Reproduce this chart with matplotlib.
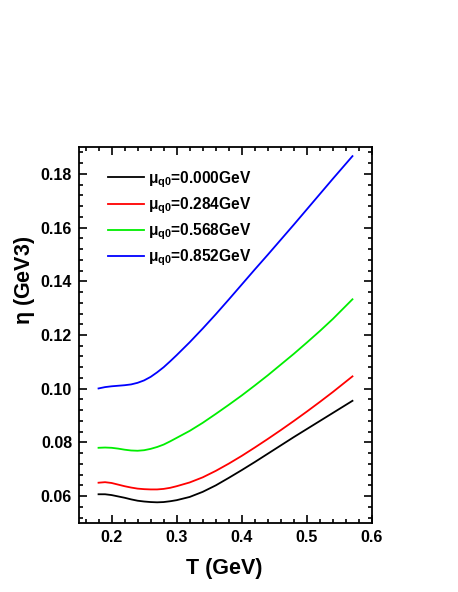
import numpy as np
import matplotlib
matplotlib.use("Agg")
import matplotlib.pyplot as plt
from matplotlib.ticker import MultipleLocator

plt.rcParams['font.family'] = ['Liberation Sans', 'DejaVu Sans']
plt.rcParams['font.weight'] = 'bold'
plt.rcParams['mathtext.default'] = 'regular'

T = [0.18, 0.19, 0.20, 0.21, 0.22, 0.23, 0.24, 0.25, 0.26, 0.27, 0.28, 0.29, 0.30,
     0.32, 0.34, 0.36, 0.38, 0.40, 0.42, 0.44, 0.46, 0.48, 0.50, 0.52, 0.54, 0.57]
eta_000 = [0.0607, 0.0607, 0.0604, 0.0599, 0.0594, 0.0588, 0.0583, 0.0580, 0.0578, 0.0577, 0.0578, 0.0581, 0.0585,
           0.0597, 0.0616, 0.0640, 0.0668, 0.0697, 0.0727, 0.0758, 0.0789, 0.0820, 0.0850, 0.0880, 0.0910, 0.0955]
eta_284 = [0.0650, 0.0652, 0.0649, 0.0643, 0.0637, 0.0632, 0.0628, 0.0626, 0.0625, 0.0625, 0.0627, 0.0631, 0.0637,
           0.0651, 0.0670, 0.0694, 0.0721, 0.0750, 0.0781, 0.0813, 0.0846, 0.0880, 0.0915, 0.0951, 0.0988, 0.1046]
eta_568 = [0.0780, 0.0781, 0.0780, 0.0777, 0.0773, 0.0770, 0.0769, 0.0771, 0.0776, 0.0783, 0.0792, 0.0804, 0.0817,
           0.0843, 0.0873, 0.0906, 0.0940, 0.0975, 0.1012, 0.1050, 0.1090, 0.1130, 0.1172, 0.1215, 0.1260, 0.1333]
eta_852 = [0.1001, 0.1006, 0.1009, 0.1011, 0.1013, 0.1016, 0.1022, 0.1031, 0.1044, 0.1061, 0.1080, 0.1102, 0.1125,
           0.1173, 0.1224, 0.1277, 0.1332, 0.1388, 0.1444, 0.1499, 0.1555, 0.1611, 0.1668, 0.1725, 0.1782, 0.1866]
labels = ['0.000', '0.284', '0.568', '0.852']
colors = ['black', 'red', '#00ee00', 'blue']

fig = plt.figure(figsize=(4.58, 5.92), dpi=100)
ax = fig.add_axes([79/458, 1-523/592, (372-79)/458, (523-147)/592])

for y, lab, c in zip([eta_000, eta_284, eta_568, eta_852], labels, colors):
    ax.plot(T, y, color=c, lw=1.3, label=r'$\mu_{q0}$=' + lab + 'GeV')

ax.set_xlim(0.15, 0.6)
ax.set_ylim(0.05, 0.19)
ax.xaxis.set_minor_locator(MultipleLocator(0.02))
ax.yaxis.set_minor_locator(MultipleLocator(0.004))
ax.tick_params(which='both', direction='in', top=True, right=True, width=1.2)
ax.tick_params(which='major', length=6, labelsize=11.5, pad=5)
ax.tick_params(which='minor', length=3)
for s in ax.spines.values():
    s.set_linewidth(1.3)
ax.set_xticks([0.2, 0.3, 0.4, 0.5, 0.6])
ax.set_xticklabels(['0.2', '0.3', '0.4', '0.5', '0.6'])
ax.set_yticks([0.06, 0.08, 0.10, 0.12, 0.14, 0.16, 0.18])
ax.set_yticklabels(['0.06', '0.08', '0.10', '0.12', '0.14', '0.16', '0.18'])

ax.set_xlabel('T (GeV)', fontsize=15.5, fontweight='bold', va='center')
ax.xaxis.set_label_coords(0.495, -0.12)
ax.set_ylabel(r'$\eta$ (GeV3)', fontsize=15.5, fontweight='bold', va='center')
ax.yaxis.set_label_coords(-0.185, 0.646)

leg = ax.legend(loc='upper left', frameon=False, fontsize=11.2, handlelength=2.3,
                handletextpad=0.3, labelspacing=0.36, borderaxespad=0.0,
                bbox_to_anchor=(0.077, 0.958))

fig.savefig('out.png', dpi=100)
